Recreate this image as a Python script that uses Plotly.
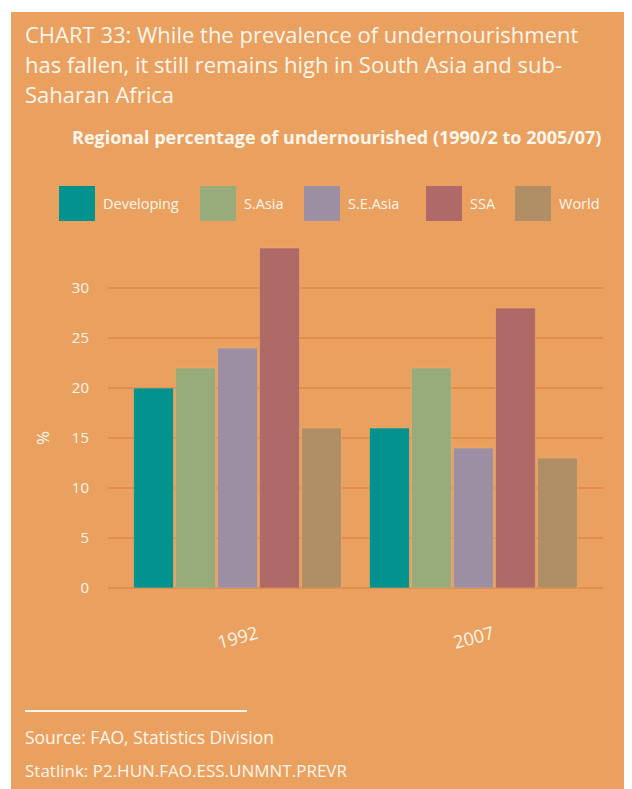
import plotly.graph_objects as go

# ---- data ----
years = ["1992", "2007"]
regions = ["Developing", "S.Asia", "S.E.Asia", "SSA", "World"]
developing = [20, 16]
s_asia = [22, 22]
se_asia = [24, 14]
ssa = [34, 28]
world = [16, 13]
y_ticks = [0, 5, 10, 15, 20, 25, 30]

series = [developing, s_asia, se_asia, ssa, world]
colors = ["#04928F", "#97AB7B", "#9C8FA3", "#AF6966", "#B18F66"]

OFF = 8                       # page body margin
W, H = 624, 781
L, R, T, B = 100, 29, 230, 201
PW, PH = W - L - R, H - T - B
BG = "#EAA05F"
GRID = "#E38C4C"
TXT = "#FFF6EC"
FONT = "Open Sans"


def px(x):
    return (x - OFF - L) / PW


def py(y):
    return (H - B - (y - OFF)) / PH


fig = go.Figure()
for name, vals, col in zip(regions, series, colors):
    fig.add_trace(go.Bar(
        x=years, y=vals, name=name,
        marker=dict(color=col, line=dict(color="rgba(240,175,110,0.55)", width=1)),
        showlegend=False,
    ))

shapes = [
    dict(type="rect", xref="paper", yref="paper", x0=px(11), x1=px(700),
         y0=py(900), y1=py(12), fillcolor=BG, line=dict(width=0), layer="below"),
    dict(type="line", xref="paper", yref="paper", x0=px(25), x1=px(247),
         y0=py(711), y1=py(711), line=dict(color=TXT, width=2)),
]
annotations = []

# custom legend
leg_x = [59, 200, 304, 426, 515]
for i, (name, col) in enumerate(zip(regions, colors)):
    x0 = leg_x[i]
    shapes.append(dict(type="rect", xref="paper", yref="paper",
                       x0=px(x0), x1=px(x0 + 36), y0=py(221), y1=py(186),
                       fillcolor=col, line=dict(width=0)))
    annotations.append(dict(xref="paper", yref="paper", x=px(x0 + 42), y=py(204),
                            text=name, showarrow=False, xanchor="left", yanchor="middle",
                            font=dict(family=FONT, size=14.5, color=TXT)))

# title lines
title_lines = [
    "CHART 33: While the prevalence of undernourishment",
    "has fallen, it still remains high in South Asia and sub-",
    "Saharan Africa",
]
for i, line in enumerate(title_lines):
    annotations.append(dict(xref="paper", yref="paper", x=px(23), y=py(34 + 30 * i),
                            text=line, showarrow=False, xanchor="left", yanchor="middle",
                            font=dict(family=FONT, size=22, color=TXT)))

annotations.append(dict(xref="paper", yref="paper", x=px(336), y=py(137),
                        text="<b>Regional percentage of undernourished (1990/2 to 2005/07)</b>",
                        showarrow=False, xanchor="center", yanchor="middle",
                        font=dict(family=FONT, size=18, color=TXT)))

# y axis title
annotations.append(dict(xref="paper", yref="paper", x=px(42), y=py(438), text="%",
                        showarrow=False, textangle=-90, xanchor="center", yanchor="middle",
                        font=dict(family=FONT, size=17, color=TXT)))

# rotated category labels
for i, yr in enumerate(years):
    annotations.append(dict(xref="x", yref="paper", x=i, y=py(637), text=yr,
                            showarrow=False, textangle=-15, xanchor="center", yanchor="middle",
                            font=dict(family=FONT, size=18, color=TXT)))

annotations.append(dict(xref="paper", yref="paper", x=px(23), y=py(737),
                        text="Source: FAO, Statistics Division", showarrow=False,
                        xanchor="left", yanchor="middle",
                        font=dict(family=FONT, size=17.5, color=TXT)))
annotations.append(dict(xref="paper", yref="paper", x=px(23), y=py(770),
                        text="Statlink: P2.HUN.FAO.ESS.UNMNT.PREVR", showarrow=False,
                        xanchor="left", yanchor="middle",
                        font=dict(family=FONT, size=17, color=TXT)))

fig.update_layout(
    width=W, height=H,
    margin=dict(l=L, r=R, t=T, b=B, pad=0),
    paper_bgcolor="white",
    plot_bgcolor="rgba(0,0,0,0)",
    barmode="group",
    bargap=0.11,
    bargroupgap=0.05,
    shapes=shapes,
    annotations=annotations,
    xaxis=dict(type="category", range=[-0.549, 1.549], showticklabels=False,
               showgrid=False, zeroline=False, showline=False, ticks=""),
    yaxis=dict(range=[0, 35], tickvals=y_ticks, showgrid=True, gridcolor=GRID, gridwidth=2,
               zeroline=True, zerolinecolor=GRID, zerolinewidth=2, showline=False,
               ticks="outside", ticklen=15, tickcolor="rgba(0,0,0,0)",
               tickfont=dict(family=FONT, size=15, color=TXT)),
    showlegend=False,
)

fig.write_html("out.html")
